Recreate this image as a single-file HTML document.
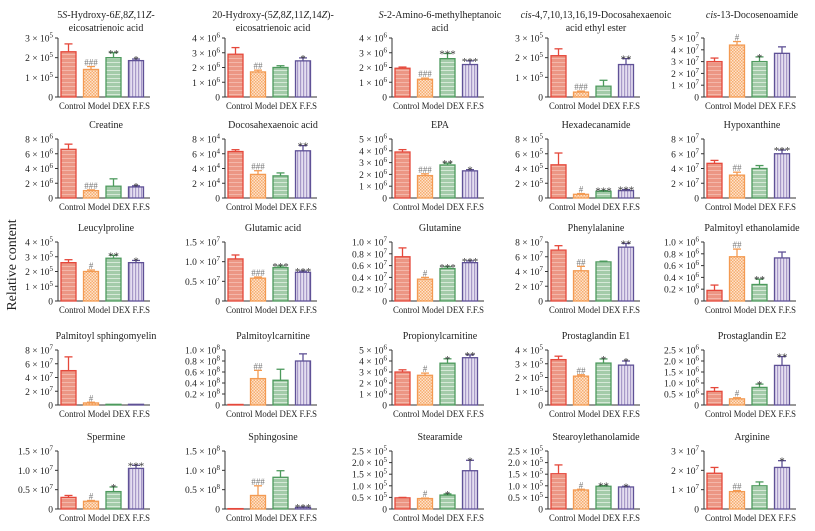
<!DOCTYPE html>
<html><head><meta charset="utf-8">
<style>
html,body{margin:0;padding:0;background:#fff;}
svg{display:block;font-family:"Liberation Serif",serif;}
</style></head>
<body>
<svg id="fig" width="815" height="531" viewBox="0 0 815 531" xmlns="http://www.w3.org/2000/svg">
<defs>
<pattern id="pControl" width="6" height="4" patternUnits="userSpaceOnUse">
<rect width="6" height="4" fill="#ec9684"/><rect y="2" width="6" height="1" fill="#f4b7aa"/>
</pattern>
<pattern id="pModel" width="3" height="3" patternUnits="userSpaceOnUse">
<rect width="3" height="3" fill="#fde3cc"/><rect width="1.5" height="1.5" fill="#f6ad70"/><rect x="1.5" y="1.5" width="1.5" height="1.5" fill="#f6ad70"/>
</pattern>
<pattern id="pDEX" width="6" height="4" patternUnits="userSpaceOnUse">
<rect width="6" height="4" fill="#a3cba9"/><rect y="2" width="6" height="1" fill="#d6e9d8"/>
</pattern>
<pattern id="pFFS" width="3" height="6" patternUnits="userSpaceOnUse">
<rect width="3" height="6" fill="#e4def0"/><rect width="1.2" height="6" fill="#a799c8"/>
</pattern>
</defs>
<text x="16" y="265" font-size="14" text-anchor="middle" transform="rotate(-90 16 265)" fill="#222">Relative content</text>
<g id="panels"></g>
</svg>
<script>
const groups = ["Control","Model","DEX","F.F.S"];
const titles = [
["5<tspan font-style='italic'>S</tspan>-Hydroxy-6<tspan font-style='italic'>E</tspan>,8<tspan font-style='italic'>Z</tspan>,11<tspan font-style='italic'>Z</tspan>-","eicosatrienoic acid"],
["20-Hydroxy-(5<tspan font-style='italic'>Z</tspan>,8<tspan font-style='italic'>Z</tspan>,11<tspan font-style='italic'>Z</tspan>,14<tspan font-style='italic'>Z</tspan>)-","eicosatrienoic acid"],
["<tspan font-style='italic'>S</tspan>-2-Amino-6-methylheptanoic","acid"],
["<tspan font-style='italic'>cis</tspan>-4,7,10,13,16,19-Docosahexaenoic","acid ethyl ester"],
["<tspan font-style='italic'>cis</tspan>-13-Docosenoamide"],
["Creatine"],["Docosahexaenoic acid"],["EPA"],["Hexadecanamide"],["Hypoxanthine"],
["Leucylproline"],["Glutamic acid"],["Glutamine"],["Phenylalanine"],["Palmitoyl ethanolamide"],
["Palmitoyl sphingomyelin"],["Palmitoylcarnitine"],["Propionylcarnitine"],["Prostaglandin E1"],["Prostaglandin E2"],
["Spermine"],["Sphingosine"],["Stearamide"],["Stearoylethanolamide"],["Arginine"]
];
const exps = [5,6,6,5,7, 6,4,6,5,7, 5,7,7,7,6, 7,8,6,5,6, 7,8,5,5,7];
const tickVals = [
[0,1,2,3],[0,1,2,3,4],[0,1,2,3,4],[0,1,2,3],[0,1,2,3,4,5],
[0,2,4,6,8],[0,2,4,6,8],[0,1,2,3,4,5],[0,2,4,6,8],[0,2,4,6,8],
[0,1,2,3,4],[0,0.5,1.0,1.5],[0,0.2,0.4,0.6,0.8,1.0],[0,2,4,6,8],[0,0.2,0.4,0.6,0.8,1.0],
[0,2,4,6,8],[0,0.2,0.4,0.6,0.8,1.0],[0,1,2,3,4,5],[0,1,2,3,4],[0,0.5,1.0,1.5,2.0,2.5],
[0,0.5,1.0,1.5],[0,0.5,1.0,1.5],[0,0.5,1.0,1.5,2.0,2.5],[0,0.5,1.0,1.5,2.0,2.5],[0,1,2,3]
];
const values = [
[2.3,1.4,2.0,1.85],[2.9,1.7,2.0,2.45],[1.95,1.2,2.6,2.2],[2.1,0.25,0.55,1.65],[3.0,4.4,3.0,3.7],
[6.6,1.0,1.6,1.5],[6.3,3.2,3.0,6.4],[3.9,1.9,2.8,2.3],[4.5,0.5,0.9,1.0],[4.7,3.1,4.0,6.0],
[2.6,2.0,2.9,2.6],[1.07,0.58,0.85,0.73],[0.75,0.37,0.55,0.65],[6.9,4.1,5.3,7.3],[0.18,0.75,0.28,0.73],
[5.0,0.3,0.1,0.1],[0.01,0.48,0.45,0.8],[3.0,2.7,3.8,4.3],[3.3,2.1,3.05,2.9],[0.62,0.28,0.8,1.8],
[0.3,0.2,0.45,1.05],[0.01,0.35,0.82,0.04],[0.48,0.45,0.6,1.65],[1.52,0.82,0.98,0.95],[1.85,0.9,1.2,2.15]
];
const errors = [
[0.4,0.15,0.25,0.08],[0.45,0.12,0.12,0.2],[0.08,0.08,0.35,0.25],[0.35,0.05,0.3,0.3],[0.3,0.3,0.4,0.55],
[0.7,0.1,1.0,0.15],[0.25,0.5,0.4,0.7],[0.2,0.15,0.15,0.1],[1.6,0.1,0.1,0.15],[0.4,0.4,0.4,0.5],
[0.2,0.1,0.2,0.15],[0.1,0.03,0.04,0.03],[0.15,0.03,0.03,0.03],[0.6,0.6,0.1,0.5],[0.09,0.13,0.09,0.1],
[2.0,0.1,0,0],[0,0.15,0.2,0.13],[0.2,0.2,0.4,0.25],[0.25,0.1,0.3,0.3],[0.17,0.05,0.15,0.4],
[0.05,0.02,0.12,0.08],[0,0.25,0.17,0.01],[0.02,0.02,0.05,0.45],[0.38,0.03,0.03,0.03],[0.3,0.05,0.2,0.35]
];
const annots = [
["","###","**","*"],["","##","","*"],["","###","***","***"],["","###","","**"],["","#","*",""],
["","###","","*"],["","###","","**"],["","###","**","*"],["","#","***","***"],["","##","","***"],
["","#","**","*"],["","###","***","***"],["","#","***","***"],["","##","","**"],["","##","**",""],
["","#","",""],["","##","",""],["","#","*","**"],["","##","*","*"],["","#","*","**"],
["","#","*","***"],["","###","","***"],["","#","*","*"],["","#","**","*"],["","##","","*"]
];
const colAxisX = [58,225,392,548,704];
const rowTop = [38,139,242,350,451];
const rowZero = [97,198,301,405,509];
const fills = ["url(#pControl)","url(#pModel)","url(#pDEX)","url(#pFFS)"];
const strokes = ["#e5483b","#f39a52","#4d9a5d","#5f5196"];
const NS = "http://www.w3.org/2000/svg";
const root = document.getElementById('panels');
function mk(tag, attrs, parent){const e=document.createElementNS(NS,tag);for(const k in attrs)e.setAttribute(k,attrs[k]);parent.appendChild(e);return e;}
function fmt(v, d){return d ? v.toFixed(1) : String(v);}
for (let p=0;p<25;p++){
  const r=Math.floor(p/5), c=p%5;
  const ax=colAxisX[c], top=rowTop[r], zero=rowZero[r];
  const ticks=tickVals[p], maxV=ticks[ticks.length-1];
  const dec = ticks.some(t=>t%1!==0);
  const yS = v => zero - v/maxV*(zero-top);
  const xS = i => ax + 3 + i*22.5;
  const g=mk('g',{},root);
  
  
  const tl=titles[p];
  const tcx=ax+48;
  let ty = r===0 ? 18 : top-11;
  tl.forEach((line,li)=>{
    const t=mk('text',{x:tcx,y:ty+li*13,'font-size':'10','text-anchor':'middle',fill:'#222'},g);
    t.innerHTML=line;
    
    
  });
  const ya=mk('line',{x1:ax,y1:top,x2:ax,y2:zero,stroke:'#333','stroke-width':'1'},g);
  
  
  const xa=mk('line',{x1:ax,y1:zero,x2:ax+92,y2:zero,stroke:'#333','stroke-width':'1'},g);
  
  
  ticks.forEach(tv=>{
    const y=yS(tv);
    mk('line',{x1:ax-3,y1:y,x2:ax,y2:y,stroke:'#333','stroke-width':'1'},g);
    const t=mk('text',{x:ax-5,y:y+3.5,'font-size':'9.5','text-anchor':'end',fill:'#222'},g);
    
    
    if(tv===0){t.textContent='0';}
    else{t.innerHTML=fmt(tv,dec)+' × 10<tspan dy="-4" font-size="7">'+exps[p]+'</tspan>';}
  });
  for(let i=0;i<4;i++){
    const x=xS(i), w=15, v=values[p][i], e=errors[p][i];
    const yb=yS(v);
    const b=mk('rect',{x:x,y:yb,width:w,height:Math.max(0.5,zero-yb),fill:fills[i],stroke:strokes[i],'stroke-width':'1.3'},g);
    
    
    let yTop=yb;
    if(e>0){
      const ye=yS(v+e); yTop=ye;
      mk('line',{x1:x+w/2,y1:yb,x2:x+w/2,y2:ye,stroke:strokes[i],'stroke-width':'1.3'},g);
      mk('line',{x1:x+w/2-4,y1:ye,x2:x+w/2+4,y2:ye,stroke:strokes[i],'stroke-width':'1.3'},g);
    }
    const a=annots[p][i];
    if(a){
      const isHash=a[0]==='#';
      const t=mk('text',{x:x+w/2,y:yTop+(isHash?-1:4),'font-size':isHash?'9':'11','text-anchor':'middle',fill:isHash?'#777':'#333'},g);
      t.textContent=a;
      
      
    }
  }
  const lt=mk('text',{x:ax+1,y:zero+12,'font-size':'9.5',fill:'#222',textLength:'91',lengthAdjust:'spacingAndGlyphs'},g);
  lt.textContent=groups.join(' ');
  
  
}
</script>
</body></html>
